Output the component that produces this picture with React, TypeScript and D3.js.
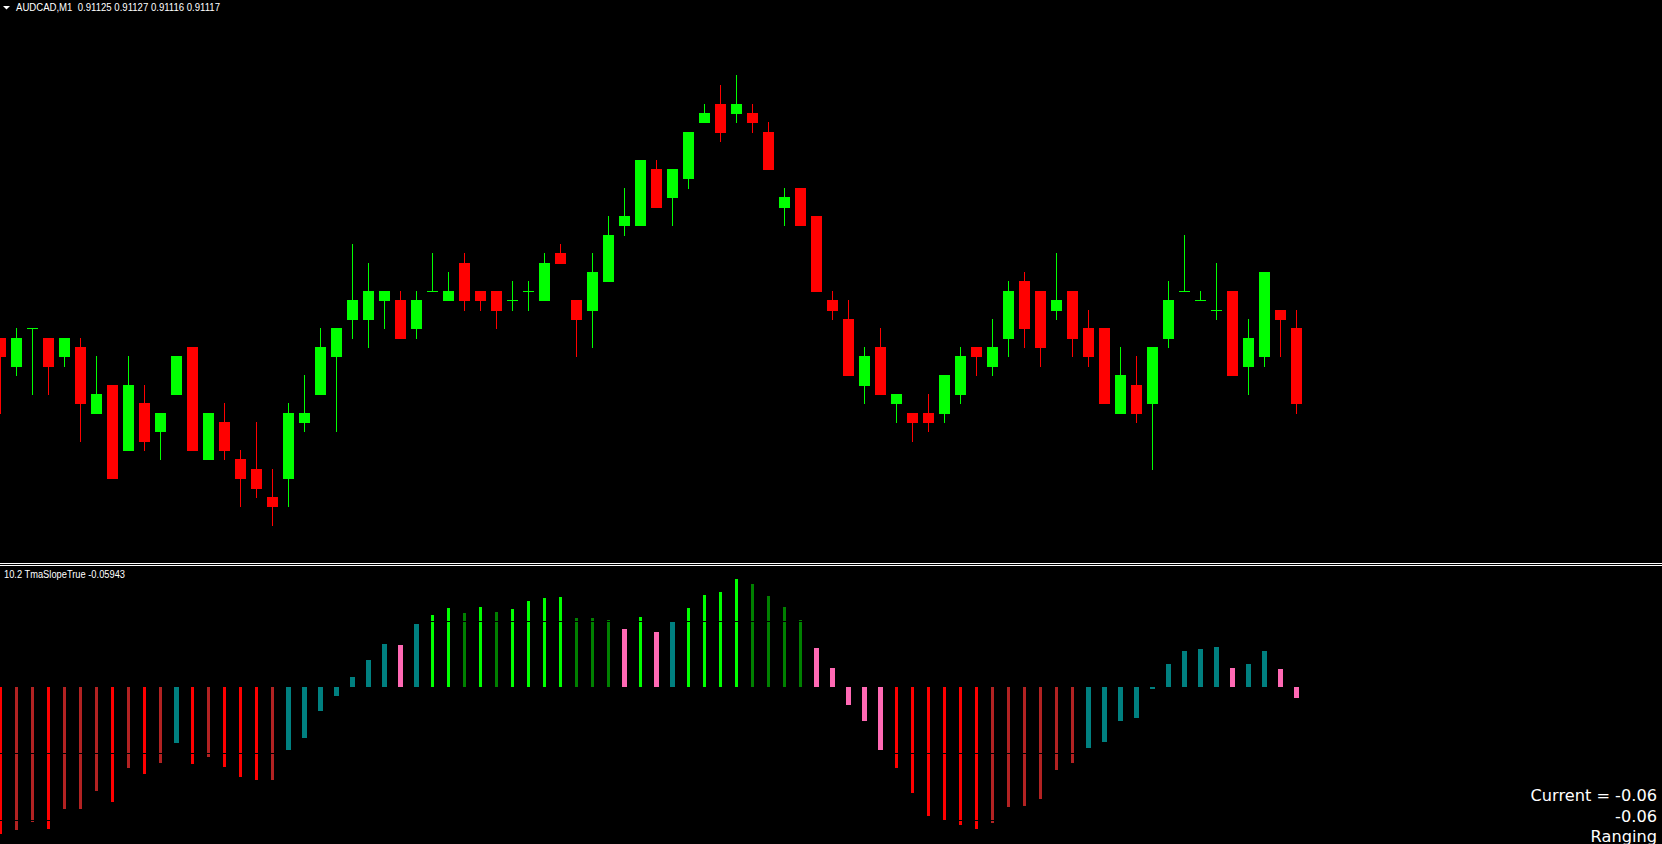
import React, { useEffect } from "react";
import * as d3 from "d3";

const W = 1662;
const H = 844;

// ---- header texts ----
const symbolLabel = "AUDCAD,M1";
const quoteLabel = "0.91125 0.91127 0.91116 0.91117";
const indicatorLabel = "10.2 TmaSlopeTrue -0.05943";
const infoLines = ["Current = -0.06", "-0.06", "Ranging"];

// ---- candles (AUDCAD M1) ----
const opens = [
  0.91124, 0.91121, 0.91125, 0.91124, 0.91122, 0.91123, 0.91116, 0.91119, 0.91112, 0.91117,
  0.91114, 0.91118, 0.91123, 0.91111, 0.91115, 0.91111, 0.9111, 0.91107, 0.91109, 0.91115,
  0.91118, 0.91122, 0.91126, 0.91126, 0.91128, 0.91128, 0.91125, 0.91129, 0.91128, 0.91132,
  0.91129, 0.91129, 0.91128, 0.91129, 0.91128, 0.91133, 0.91128, 0.91127, 0.9113, 0.91136,
  0.91136, 0.91142, 0.91139, 0.91141, 0.91147, 0.91149, 0.91148, 0.91148, 0.91146, 0.91138,
  0.9114, 0.91137, 0.91128, 0.91126, 0.91119, 0.91123, 0.91117, 0.91116, 0.91116, 0.91116,
  0.91118, 0.91123, 0.91121, 0.91124, 0.9113, 0.91129, 0.91127, 0.91129, 0.91125, 0.91125,
  0.91116, 0.91119, 0.91117, 0.91124, 0.91129, 0.91128, 0.91127, 0.91129, 0.91121, 0.91122,
  0.91127, 0.91125,
];
const highs = [
  0.91124, 0.91125, 0.91125, 0.91124, 0.91124, 0.91124, 0.91122, 0.91119, 0.91122, 0.91119,
  0.91116, 0.91122, 0.91123, 0.91116, 0.91117, 0.91112, 0.91115, 0.9111, 0.91117, 0.9112,
  0.91125, 0.91125, 0.91134, 0.91132, 0.91129, 0.91129, 0.91129, 0.91133, 0.91131, 0.91133,
  0.91129, 0.91129, 0.9113, 0.9113, 0.91133, 0.91134, 0.91128, 0.91133, 0.91137, 0.9114,
  0.91143, 0.91143, 0.91142, 0.91146, 0.91149, 0.91151, 0.91152, 0.91149, 0.91147, 0.9114,
  0.9114, 0.91137, 0.91129, 0.91128, 0.91123, 0.91125, 0.91118, 0.91116, 0.91118, 0.9112,
  0.91123, 0.91123, 0.91126, 0.9113, 0.91131, 0.91129, 0.91133, 0.91129, 0.91127, 0.91125,
  0.91123, 0.91122, 0.91123, 0.9113, 0.91135, 0.91129, 0.91132, 0.91129, 0.91126, 0.91131,
  0.91127, 0.91127,
];
const lows = [
  0.91116, 0.9112, 0.91118, 0.91118, 0.91121, 0.91113, 0.91116, 0.91109, 0.91112, 0.91112,
  0.91111, 0.91118, 0.91112, 0.91111, 0.91111, 0.91106, 0.91107, 0.91104, 0.91106, 0.91114,
  0.91118, 0.91114, 0.91124, 0.91123, 0.91125, 0.91124, 0.91124, 0.91129, 0.91128, 0.91127,
  0.91127, 0.91125, 0.91127, 0.91127, 0.91128, 0.91132, 0.91122, 0.91123, 0.9113, 0.91135,
  0.91136, 0.91138, 0.91136, 0.9114, 0.91147, 0.91145, 0.91147, 0.91146, 0.91142, 0.91136,
  0.91136, 0.91129, 0.91126, 0.9112, 0.91117, 0.91118, 0.91115, 0.91113, 0.91114, 0.91115,
  0.91117, 0.9112, 0.9112, 0.91122, 0.91123, 0.91121, 0.91126, 0.91122, 0.91121, 0.91117,
  0.91116, 0.91115, 0.9111, 0.91123, 0.91129, 0.91128, 0.91126, 0.9112, 0.91118, 0.91121,
  0.91122, 0.91116,
];
const closes = [
  0.91122, 0.91124, 0.91125, 0.91121, 0.91124, 0.91117, 0.91118, 0.91109, 0.91119, 0.91113,
  0.91116, 0.91122, 0.91112, 0.91116, 0.91112, 0.91109, 0.91108, 0.91106, 0.91116, 0.91116,
  0.91123, 0.91125, 0.91128, 0.91129, 0.91129, 0.91124, 0.91128, 0.91129, 0.91129, 0.91128,
  0.91128, 0.91127, 0.91128, 0.91129, 0.91132, 0.91132, 0.91126, 0.91131, 0.91135, 0.91137,
  0.91143, 0.91138, 0.91142, 0.91146, 0.91148, 0.91146, 0.91149, 0.91147, 0.91142, 0.91139,
  0.91136, 0.91129, 0.91127, 0.9112, 0.91122, 0.91118, 0.91118, 0.91115, 0.91115, 0.9112,
  0.91122, 0.91122, 0.91123, 0.91129, 0.91125, 0.91123, 0.91128, 0.91124, 0.91122, 0.91117,
  0.9112, 0.91116, 0.91123, 0.91128, 0.91129, 0.91128, 0.91127, 0.9112, 0.91124, 0.91131,
  0.91126, 0.91117,
];

// ---- TmaSlopeTrue histogram ----
const slope = [
  -0.886, -0.861, -0.813, -0.855, -0.735, -0.735, -0.627, -0.693, -0.488, -0.524,
  -0.458, -0.337, -0.464, -0.422, -0.482, -0.542, -0.56, -0.56, -0.38, -0.307,
  -0.145, -0.054, 0.06, 0.163, 0.259, 0.253, 0.38, 0.434, 0.476, 0.446,
  0.482, 0.452, 0.47, 0.518, 0.536, 0.542, 0.416, 0.416, 0.404, 0.349,
  0.422, 0.331, 0.392, 0.476, 0.554, 0.572, 0.651, 0.62, 0.548, 0.482,
  0.404, 0.235, 0.114, -0.108, -0.205, -0.38, -0.488, -0.639, -0.777, -0.801,
  -0.831, -0.855, -0.819, -0.723, -0.717, -0.675, -0.5, -0.458, -0.367, -0.331,
  -0.205, -0.187, -0.012, 0.139, 0.217, 0.229, 0.241, 0.114, 0.139, 0.217,
  0.108, -0.066,
];
// state of each bar: dnS strong down, dnW weak down, rgU ranging rising, rgD ranging falling, upS strong up, upW weak up
const slopeState = [
  "dnS", "dnW", "dnW", "dnS", "dnW", "dnW", "dnW", "dnS", "dnW", "dnS",
  "dnW", "rgU", "dnS", "dnW", "dnS", "dnS", "dnS", "dnW", "rgU", "rgU",
  "rgU", "rgU", "rgU", "rgU", "rgU", "rgD", "rgU", "upS", "upS", "upW",
  "upS", "upW", "upS", "upS", "upS", "upS", "upW", "upW", "upW", "rgD",
  "upS", "rgD", "rgU", "upS", "upS", "upS", "upS", "upW", "upW", "upW",
  "upW", "rgD", "rgD", "rgD", "rgD", "rgD", "dnS", "dnS", "dnS", "dnS",
  "dnS", "dnS", "dnW", "dnW", "dnW", "dnW", "dnW", "dnW", "rgU", "rgU",
  "rgU", "rgU", "rgU", "rgU", "rgU", "rgU", "rgU", "rgD", "rgU", "rgU",
  "rgD", "rgD",
];
const slopeLevels = [0.4, -0.4, 0.8, -0.8];

const STATE_COLOR: Record<string, string> = {
  dnS: "#FF0000",
  dnW: "#B22222",
  rgU: "#008080",
  rgD: "#FF69B4",
  upS: "#00FF00",
  upW: "#008000",
};
const STATE_WIDTH: Record<string, number> = { dnS: 3, dnW: 3, rgU: 5, rgD: 5, upS: 3, upW: 3 };

const BULL = "#00FF00";
const BEAR = "#FF0000";

export default function App() {
  useEffect(() => {
    document.body.style.margin = "0";
    document.body.style.background = "#000";
    document.body.style.overflow = "hidden";
  }, []);

  const x = d3.scaleLinear().domain([0, 1]).range([0, 16]);
  const yPrice = d3.scaleLinear().domain([0.911, 0.9116]).range([562.98, 0.98]);
  const yInd = d3.scaleLinear().domain([-1, 1]).range([853, 521]);
  const row = (p: number) => Math.floor(yPrice(p));
  const zeroY = Math.round(yInd(0));

  const candles = opens.map((o, i) => {
    const c = closes[i];
    const color = c >= o ? BULL : BEAR;
    const cx = x(i);
    const top = row(Math.max(o, c));
    const bot = row(Math.min(o, c));
    const wt = row(highs[i]);
    const wb = row(lows[i]);
    return (
      <g key={i} fill={color}>
        <rect x={cx} y={wt} width={1} height={wb - wt + 1} />
        <rect x={cx - 5} y={top} width={11} height={bot - top + 1} />
      </g>
    );
  });

  const bars = slope.map((v, i) => {
    const st = slopeState[i];
    const w = STATE_WIDTH[st];
    const cx = x(i);
    const yv = Math.round(yInd(v));
    const y0 = v >= 0 ? yv : zeroY;
    const h = v >= 0 ? zeroY - yv : yv - zeroY;
    return <rect key={i} x={cx - (w - 1) / 2} y={y0} width={w} height={Math.max(h, 1)} fill={STATE_COLOR[st]} />;
  });

  const levelLines = slopeLevels.map((lv, i) => (
    <rect key={i} x={0} y={Math.round(yInd(lv))} width={W} height={1} fill="#000" />
  ));

  return (
    <div style={{ position: "fixed", left: 0, top: 0, width: W, height: H, overflow: "hidden", background: "#000" }}>
      <svg width={W} height={H} style={{ display: "block", background: "#000" }} shapeRendering="crispEdges">
        <rect x={0} y={0} width={W} height={H} fill="#000" />
        {candles}
        {bars}
        {levelLines}
        {/* window separator */}
        <rect x={0} y={563} width={W} height={1} fill="#FFF" />
        <rect x={0} y={565} width={W} height={1} fill="#FFF" />
        {/* header */}
        <polygon points="3,6 10,6 6.5,9.5" fill="#FFF" shapeRendering="auto" />
        <text
          x={16}
          y={11}
          fill="#FFF"
          fontFamily="'Liberation Sans', Arial, sans-serif"
          fontSize={10}
          textLength={204}
          lengthAdjust="spacingAndGlyphs"
          style={{ whiteSpace: "pre" }}
        >
          {symbolLabel + "  " + quoteLabel}
        </text>
        <text
          x={4}
          y={578}
          fill="#FFF"
          fontFamily="'Liberation Sans', Arial, sans-serif"
          fontSize={10}
          textLength={121}
          lengthAdjust="spacingAndGlyphs"
        >
          {indicatorLabel}
        </text>
        {infoLines.map((t, i) => (
          <text
            key={i}
            x={1657}
            y={801 + i * 20.5}
            fill="#FFF"
            textAnchor="end"
            fontFamily="'DejaVu Sans', Verdana, sans-serif"
            fontSize={16.2}
          >
            {t}
          </text>
        ))}
      </svg>
    </div>
  );
}
